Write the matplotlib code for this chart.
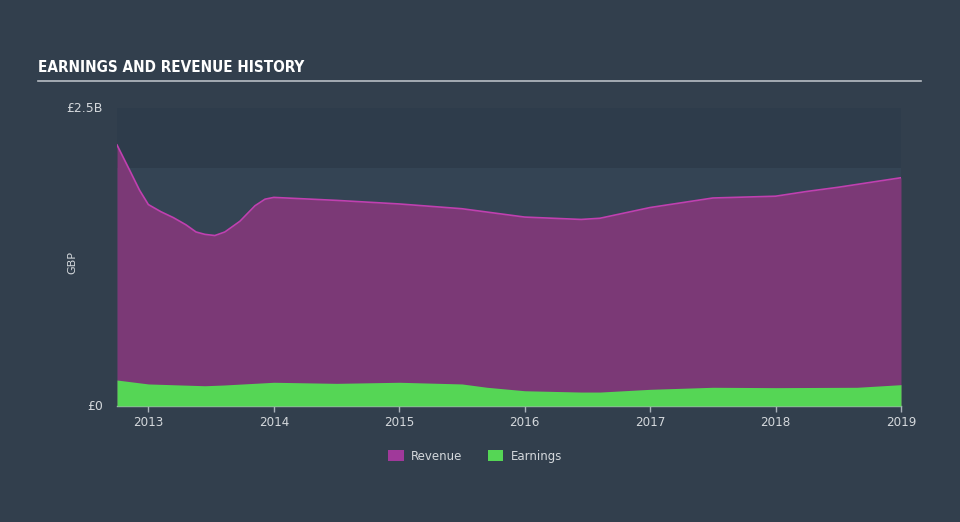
import matplotlib
matplotlib.use("Agg")
import matplotlib.pyplot as plt
from matplotlib.patches import Patch

# ── data (decimal year, GBP billions) ─────────────────────────
rev_years = [2012.75, 2012.85, 2012.93, 2013.0, 2013.1, 2013.2, 2013.3, 2013.38,
             2013.45, 2013.53, 2013.61, 2013.73, 2013.85, 2013.93, 2014.0,
             2014.5, 2015.0, 2015.5, 2016.0, 2016.45, 2016.6, 2017.0, 2017.25,
             2017.5, 2018.0, 2018.25, 2018.5, 2019.0]
revenue = [2.19, 1.98, 1.81, 1.69, 1.63, 1.58, 1.52, 1.46,
           1.44, 1.43, 1.46, 1.55, 1.68, 1.735, 1.75,
           1.725, 1.695, 1.655, 1.585, 1.565, 1.575, 1.665, 1.705,
           1.745, 1.76, 1.80, 1.835, 1.915]

earn_years = [2012.75, 2013.0, 2013.45, 2013.6, 2014.0, 2014.5, 2015.0, 2015.5,
              2015.7, 2016.0, 2016.45, 2016.6, 2017.0, 2017.5, 2018.0, 2018.65, 2019.0]
earnings = [0.218, 0.185, 0.170, 0.176, 0.199, 0.190, 0.199, 0.185,
            0.157, 0.128, 0.117, 0.117, 0.140, 0.157, 0.154, 0.157, 0.179]

x_ticks = [2013, 2014, 2015, 2016, 2017, 2018, 2019]
y_ticks = [0, 2.5]
y_tick_labels = ["£0", "£2.5B"]

BG = "#323f4d"
PLOT_BG = "#344454"
BAND = "#2e3c4b"
REV_FILL = "#7b3976"
REV_LINE = "#c040b0"
EARN = "#55d655"
TXT = "#d4d8dc"

fig = plt.figure(figsize=(9.6, 5.22), dpi=100, facecolor=BG)
ax = fig.add_axes([117 / 960, 1 - 406 / 522, 784 / 960, 298 / 522])
ax.set_facecolor(PLOT_BG)

# darker band above 2.0B
ax.axhspan(2.0, 2.5, color=BAND, zorder=0, lw=0)

ax.fill_between(rev_years, revenue, 0, color=REV_FILL, lw=0, zorder=1)
ax.plot(rev_years, revenue, color=REV_LINE, lw=1.2, zorder=2)
ax.fill_between(earn_years, earnings, 0, color=EARN, lw=0, zorder=3)

ax.set_xlim(2012.75, 2019.0)
ax.set_ylim(0, 2.5)

for s in ["top", "right", "left"]:
    ax.spines[s].set_visible(False)
ax.spines["bottom"].set_color("#aab2ba")
ax.spines["bottom"].set_linewidth(1)

ax.set_xticks(x_ticks)
ax.set_xticklabels([str(y) for y in x_ticks])
ax.tick_params(axis="x", colors="#aab2ba", length=4, width=1, labelcolor=TXT,
               labelsize=9.5, pad=3)
for lab in ax.get_xticklabels():
    lab.set_fontstretch("condensed")
ax.set_yticks([])

for v, lab in zip(y_ticks, y_tick_labels):
    ax.text(-0.018, v, lab, transform=ax.get_yaxis_transform(),
            ha="right", va="center", color=TXT, fontsize=9)

fig.text(72 / 960, 1 - 262 / 522, "GBP", rotation=90, ha="center", va="center",
         color=TXT, fontsize=8)

# title and underline
fig.text(38 / 960, 1 - 68 / 522, "EARNINGS AND REVENUE HISTORY",
         ha="left", va="center", color="white", fontsize=11, fontweight="bold",
         fontstretch="condensed", family="DejaVu Sans")
fig.add_artist(plt.Line2D([38 / 960, 921 / 960], [1 - 81 / 522, 1 - 81 / 522],
                          color="#b8bec4", lw=1.2))

handles = [Patch(facecolor="#a0399a", label="Revenue"),
           Patch(facecolor=EARN, label="Earnings")]
leg = fig.legend(handles=handles, loc="center", bbox_to_anchor=(475 / 960, 1 - 456 / 522),
                 ncol=2, frameon=False, fontsize=8.5, handlelength=1.3,
                 handleheight=1.0, columnspacing=2.2, handletextpad=0.6)
for t in leg.get_texts():
    t.set_color(TXT)

fig.savefig("out.png", dpi=100, facecolor=BG)
